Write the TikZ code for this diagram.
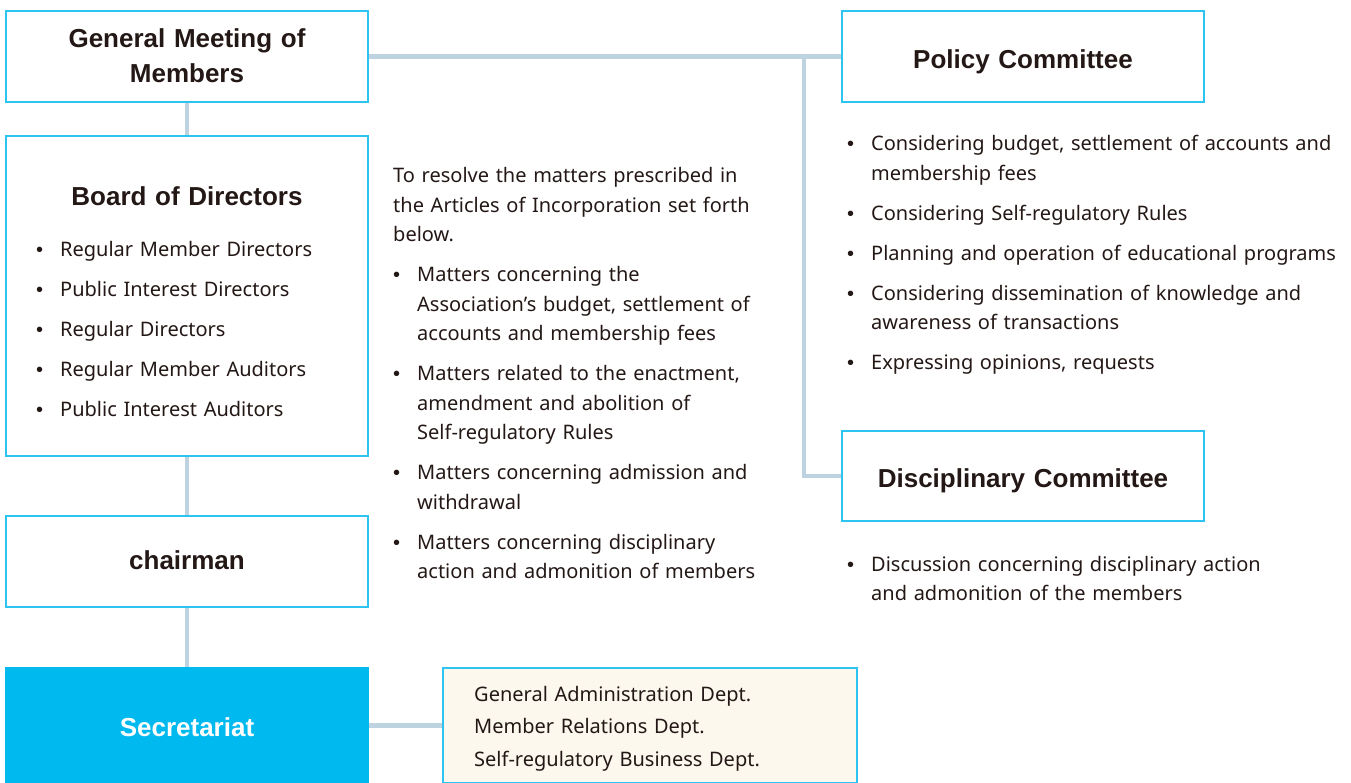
\documentclass[tikz,border=0pt]{standalone}
\usepackage{fontspec}
\setmainfont{Noto Sans}
\newfontfamily\headfont{Liberation Sans}
\usetikzlibrary{positioning}
\definecolor{orgedge}{HTML}{2EC4F1}
\definecolor{orgblue}{HTML}{00B9EF}
\definecolor{orglink}{HTML}{BDD3E0}
\definecolor{orgcream}{HTML}{FCF8EE}
\definecolor{orgtext}{HTML}{231815}

% one bullet paragraph with hanging indent
\newcommand{\bitem}[1]{\hangindent=24pt\hangafter=1%
  \makebox[24pt][l]{\headfont\textbullet}{\let\\\newline #1}\par}

\begin{document}
\begin{tikzpicture}[x=1pt, y=-1pt,
    unit/.style={rectangle, draw=orgedge, line width=2pt, fill=white,
                 minimum width=362pt, minimum height=#1, inner sep=0pt},
    title/.style={font=\headfont\fontsize{26}{35}\selectfont\bfseries, color=orgtext,
                  anchor=base, inner sep=0pt, text width=360pt, align=center},
    items/.style={font=\fontsize{20}{29.5}\selectfont, color=orgtext,
                  anchor=base west, inner sep=0pt, text width=#1, align=left,
                  execute at begin node={\setlength{\parskip}{10.5pt}}},
    link/.style={draw=orglink, line width=4.5pt}
]
\useasboundingbox (0,0) rectangle (1351,783);

% boxes
\node[unit=91pt] (meeting) at (187,56.5) {};
\node[unit=91pt] (policy) at (1023,56.5) {};
\node[unit=320pt] (board) at (187,296) {};
\node[unit=90pt] (discipline) at (1023,476) {};
\node[unit=91pt] (chair) at (187,561.5) {};
\node[unit=115pt, fill=orgblue, draw=orgblue] (office) at (187,725.5) {};
\node[unit=115pt, fill=orgcream, minimum width=414pt] (depts) at (650,725.5) {};

% connectors
\coordinate (branch) at (804,56.5);
\draw[link] (meeting) -- (policy);
\draw[link] (branch) |- (discipline);
\draw[link] (meeting) -- (board);
\draw[link] (board) -- (chair);
\draw[link] (chair) -- (office);
\draw[link] (office) -- (depts);

% titles
\node[title] (meetingtxt) at (187,48) {General Meeting of\\Members};
\node[title] (policytxt) at (1023,69) {Policy Committee};
\node[title] (boardtxt) at (187,206) {Board of Directors};
\node[title] (disciplinetxt) at (1023,487) {Disciplinary Committee};
\node[title] (chairtxt) at (187,569) {chairman};
\node[title, color=white] (officetxt) at (187,736) {Secretariat};

% lists
\node[items=300pt] (boardlist) at (36,257) {%
  \bitem{Regular Member Directors}
  \bitem{Public Interest Directors}
  \bitem{Regular Directors}
  \bitem{Regular Member Auditors}
  \bitem{Public Interest Auditors}};

\node[items=420pt] (matters) at (393,183) {%
  To resolve the matters prescribed in\\
  the Articles of Incorporation set forth\\
  below.\par
  \bitem{Matters concerning the\\Association’s budget, settlement of\\accounts and membership fees}
  \bitem{Matters related to the enactment,\\amendment and abolition of\\Self-regulatory Rules}
  \bitem{Matters concerning admission and\\withdrawal}
  \bitem{Matters concerning disciplinary\\action and admonition of members}};

\node[items=500pt] (policylist) at (847,151) {%
  \bitem{Considering budget, settlement of accounts and\\membership fees}
  \bitem{Considering Self-regulatory Rules}
  \bitem{Planning and operation of educational programs}
  \bitem{Considering dissemination of knowledge and\\awareness of transactions}
  \bitem{Expressing opinions, requests}};

\node[items=450pt] (disciplinelist) at (847,571) {%
  \bitem{Discussion concerning disciplinary action\\and admonition of the members}};

\node[items=360pt, font=\fontsize{20}{32.5}\selectfont] (deptlist) at (474,701) {%
  General Administration Dept.\\
  Member Relations Dept.\\
  Self-regulatory Business Dept.};
\end{tikzpicture}
\end{document}
